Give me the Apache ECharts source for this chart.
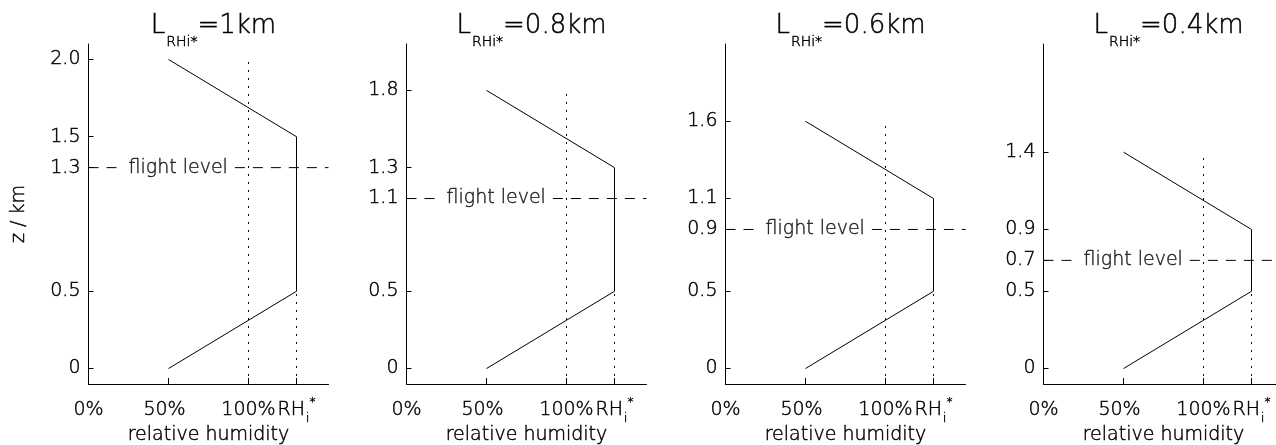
<!DOCTYPE html>
<html>
<head>
<meta charset="utf-8">
<script src="https://cdn.jsdelivr.net/npm/echarts@6/dist/echarts.min.js"></script>
<style>
html,body{margin:0;padding:0;background:#fff;}
#chart{width:1276px;height:445px;}
</style>
</head>
<body>
<div id="chart"></div>
<script>
// ---- data ----
const titleL = ['1km', '0.8km', '0.6km', '0.4km'];
const profileRH = [50, 130, 130, 50];
const profileZ1 = [0, 0.5, 1.5, 2.0];
const profileZ2 = [0, 0.5, 1.3, 1.8];
const profileZ3 = [0, 0.5, 1.1, 1.6];
const profileZ4 = [0, 0.5, 0.9, 1.4];
const profilesZ = [profileZ1, profileZ2, profileZ3, profileZ4];
const flightLevels = [1.3, 1.1, 0.9, 0.7];
const yTicks1 = [0, 0.5, 1.3, 1.5, 2.0];
const yTicks2 = [0, 0.5, 1.1, 1.3, 1.8];
const yTicks3 = [0, 0.5, 0.9, 1.1, 1.6];
const yTicks4 = [0, 0.5, 0.7, 0.9, 1.4];
const yTicksAll = [yTicks1, yTicks2, yTicks3, yTicks4];
const xTickValues = [0, 50, 100, 130];
const rhSaturation = 100;
const rhStar = 130;
const xMin = 0, xMax = 150;
const zMin = -0.1, zMax = 2.1;
const flightLabelText = 'flight level';

// ---- layout ----
const FONT = 'DejaVu Sans';
const FW = 200;
const gridLeft0 = 88, gridStep = 318.3, gridW = 240, gridTop = 44, gridH = 340;
const pxToX = px => px / gridW * (xMax - xMin);
const labelLeftPx = 40;

function txt(size, extra) {
  return Object.assign({fontFamily: FONT, fontWeight: FW, fontSize: size, color: '#000',
    textBorderColor: '#000', textBorderWidth: 0.45}, extra || {});
}

const mctx = document.createElement('canvas').getContext('2d');
mctx.font = FW + ' 19px "' + FONT + '"';
const flightTextW = mctx.measureText(flightLabelText).width;

const grids = [], xAxes = [], yAxes = [], series = [], titles = [];
for (let i = 0; i < 4; i++) {
  const left = Math.round(gridLeft0 + i * gridStep) + 0.5;
  grids.push({left: left, top: gridTop, width: gridW, height: gridH,
    containLabel: false, outerBoundsMode: 'none'});
  titles.push({
    text: '{a|L}{b|RHi*}{a|=' + titleL[i] + '}',
    left: left + gridW / 2, top: 8, textAlign: 'center',
    textStyle: {
      fontWeight: FW,
      rich: {
        a: txt(26, {lineHeight: 26}),
        b: txt(14, {lineHeight: 14, padding: [32, 0, 0, 1]})
      }
    }
  });
  xAxes.push({
    gridIndex: i, type: 'value', min: xMin, max: xMax,
    splitLine: {show: false},
    axisLine: {show: true, onZero: false, lineStyle: {color: '#000', width: 1}},
    axisTick: {show: true, inside: true, length: 6, customValues: xTickValues, lineStyle: {color: '#000'}},
    axisLabel: Object.assign(txt(19), {
      customValues: xTickValues, margin: 13, hideOverlap: false,
      formatter: v => v === rhStar ? '{m|RH}{s|i}{p|*}' :
        (v === 50 ? '{f|' + v + '%}' : '{m|' + v + '%}'),
      rich: {
        m: txt(19, {lineHeight: 27}),
        f: txt(19, {lineHeight: 27, padding: [0, 8, 0, 0]}),
        s: txt(12, {lineHeight: 11, padding: [16, 0, 0, 1]}),
        p: txt(12, {lineHeight: 11, padding: [0, 0, 16, 0]})
      }
    }),
    name: 'relative humidity', nameLocation: 'middle', nameGap: 42,
    nameMoveOverlap: false,
    nameTextStyle: txt(19)
  });
  yAxes.push({
    gridIndex: i, type: 'value', min: zMin, max: zMax,
    splitLine: {show: false},
    axisLine: {show: true, onZero: false, lineStyle: {color: '#000', width: 1}},
    axisTick: {show: true, inside: true, length: 5, customValues: yTicksAll[i], lineStyle: {color: '#000'}},
    axisLabel: Object.assign(txt(19), {
      customValues: yTicksAll[i], margin: 8, hideOverlap: false,
      formatter: v => v === 0 ? '0' : v.toFixed(1)
    }),
    name: i === 0 ? 'z / km' : '', nameLocation: 'middle', nameGap: 60,
    nameTextStyle: txt(19)
  });
  const zp = profilesZ[i];
  const fl = flightLevels[i];
  series.push({
    type: 'line', xAxisIndex: i, yAxisIndex: i, symbol: 'none', silent: true,
    data: profileRH.map((rh, k) => [rh, zp[k]]),
    lineStyle: {color: '#000', width: 1}, z: 3
  });
  series.push({
    type: 'line', xAxisIndex: i, yAxisIndex: i, symbol: 'none', silent: true,
    data: [[rhSaturation, zMin], [rhSaturation, zp[3]]],
    lineStyle: {color: '#000', width: 1, type: [2, 6]}, z: 2
  });
  series.push({
    type: 'line', xAxisIndex: i, yAxisIndex: i, symbol: 'none', silent: true,
    data: [[rhStar, zMin], [rhStar, zp[1]]],
    lineStyle: {color: '#000', width: 1, type: [2, 6]}, z: 2
  });
  // flight level dashed line, interrupted by its label
  series.push({
    type: 'line', xAxisIndex: i, yAxisIndex: i, symbol: 'none', silent: true,
    data: [[xMin, fl], [xMin + pxToX(labelLeftPx - 5), fl], null,
           [xMin + pxToX(labelLeftPx + flightTextW + 7), fl], [xMax, fl]],
    connectNulls: false,
    lineStyle: {color: '#000', width: 1, type: [10, 8]}, z: 2
  });
  series.push({
    type: 'scatter', xAxisIndex: i, yAxisIndex: i, symbolSize: 0, silent: true,
    data: [[xMin + pxToX(labelLeftPx), fl]], z: 10,
    label: Object.assign(txt(19), {
      show: true, position: 'right', distance: 0, formatter: flightLabelText
    })
  });
}

const chart = echarts.init(document.getElementById('chart'), null, {renderer: 'canvas'});
chart.setOption({
  animation: false,
  backgroundColor: '#fff',
  title: titles,
  grid: grids, xAxis: xAxes, yAxis: yAxes, series: series
});
</script>
</body>
</html>
